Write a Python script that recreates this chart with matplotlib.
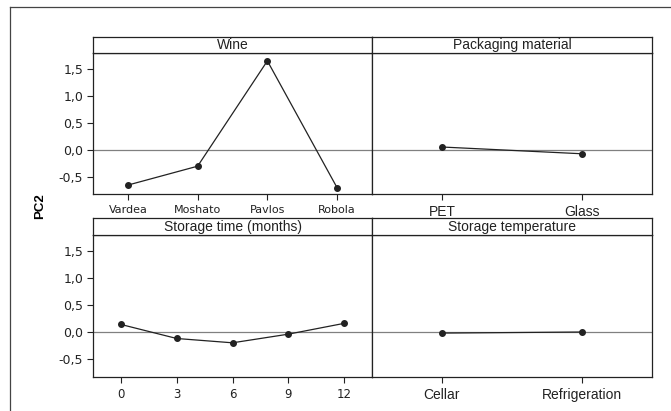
# main effects plot for PC2 - four factors in a 2x2 grid

import matplotlib
matplotlib.use("Agg")
import matplotlib.pyplot as plt
from matplotlib.lines import Line2D

W, H = 671, 411

wine = ["Vardea", "Moshato", "Pavlos", "Robola"]
wine_pc2 = [-0.65, -0.30, 1.65, -0.70]

packaging = ["PET", "Glass"]
packaging_pc2 = [0.055, -0.07]

months = [0, 3, 6, 9, 12]
months_pc2 = [0.14, -0.12, -0.20, -0.04, 0.16]

temperature = ["Cellar", "Refrigeration"]
temperature_pc2 = [-0.02, 0.0]

ytick_vals = [-0.5, 0.0, 0.5, 1.0, 1.5]
ytick_labels = ["-0,5", "0,0", "0,5", "1,0", "1,5"]

fig = plt.figure(figsize=(W / 100, H / 100), dpi=100)


def px_axes(x0, y0, x1, y1):
    # pixel box (top-left origin) -> figure axes
    return fig.add_axes([x0 / W, 1 - y1 / H, (x1 - x0) / W, (y1 - y0) / H])


def panel(x0, x1, ys, yb, yt, title, xs, ys_data, xlabels, xlim, ylim,
          show_y, lab_font, lab_size):
    ax = px_axes(x0, yt, x1, yb)
    strip = px_axes(x0, ys, x1, yt)
    strip.set_xticks([])
    strip.set_yticks([])
    for s in strip.spines.values():
        s.set_linewidth(0.9)
        s.set_color("#222222")
    strip.text(0.5, 0.48, title, ha="center", va="center", fontsize=10,
               family="Liberation Sans", color="#222222")

    ax.axhline(0, color="#808080", lw=0.9, zorder=1)
    ax.plot(xs, ys_data, color="#222222", lw=0.9, marker="o", ms=4,
            zorder=3)
    ax.set_xlim(*xlim)
    ax.set_ylim(*ylim)
    ax.set_xticks(xs)
    ax.set_xticklabels(xlabels, fontsize=lab_size, family=lab_font,
                       color="#222222")
    ax.tick_params(axis="x", length=4, width=0.8, pad=4, color="#222222")
    if show_y:
        ax.set_yticks(ytick_vals)
        ax.set_yticklabels(ytick_labels, fontsize=9, family="DejaVu Sans",
                           color="#222222")
        ax.tick_params(axis="y", length=4, width=0.8, pad=3,
                       color="#222222")
    else:
        ax.set_yticks([])
    for s in ax.spines.values():
        s.set_linewidth(0.9)
        s.set_color("#222222")
    return ax


# top row
panel(93, 372, 37, 194, 53, "Wine", [1, 2, 3, 4], wine_pc2, wine,
      (0.5, 4.5), (-0.815, 1.796), True, "DejaVu Sans", 8)
panel(372, 652, 37, 194, 53, "Packaging material", [1, 2], packaging_pc2,
      packaging, (0.5, 2.5), (-0.815, 1.796), False, "Liberation Sans", 10)

# bottom row
panel(93, 372, 218, 377, 235, "Storage time (months)", months, months_pc2,
      [str(m) for m in months], (-1.5, 13.5), (-0.833, 1.796), True,
      "DejaVu Sans", 8.5)
panel(372, 652, 218, 377, 235, "Storage temperature", [1, 2],
      temperature_pc2, temperature, (0.5, 2.5), (-0.833, 1.796), False,
      "Liberation Sans", 10)

fig.text(40 / W, 1 - 206 / H, "PC2", rotation=90, ha="center", va="center",
         fontsize=9.5, fontweight="bold", family="Liberation Sans")

# outer frame (only top and left edges visible)
fig.add_artist(Line2D([10 / W, 1], [1 - 7 / H, 1 - 7 / H],
                      transform=fig.transFigure, color="#444444", lw=0.9))
fig.add_artist(Line2D([10 / W, 10 / W], [1 - 7 / H, 0],
                      transform=fig.transFigure, color="#444444", lw=0.9))

fig.savefig("out.png", dpi=100)
